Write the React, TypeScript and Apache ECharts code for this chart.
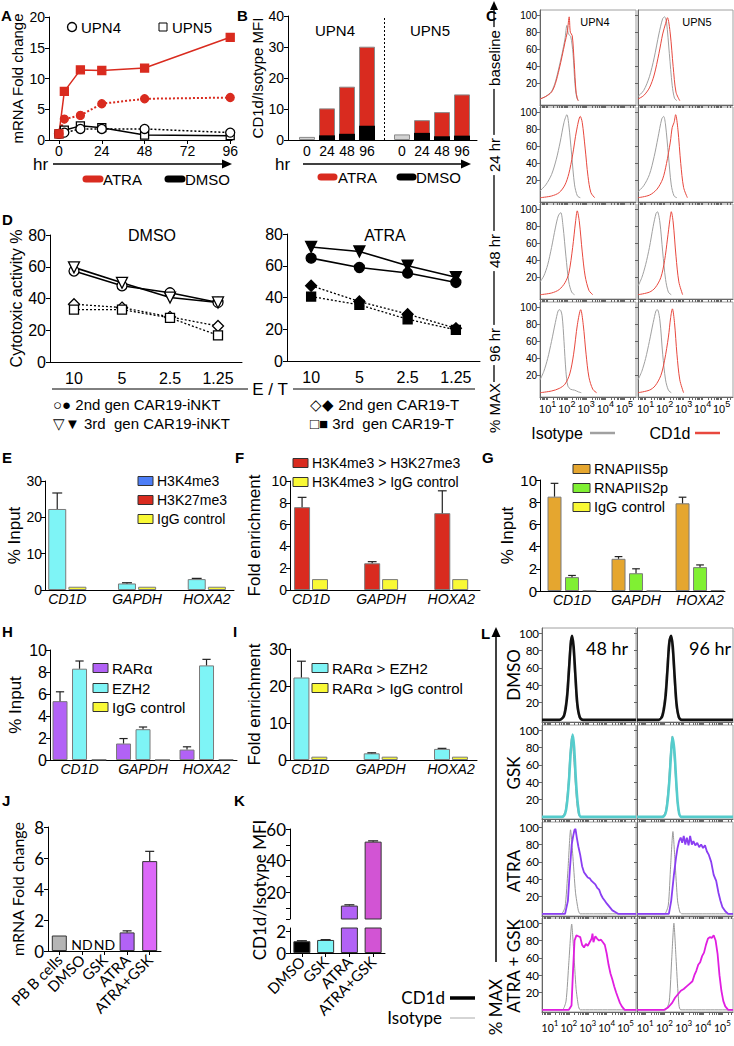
import React, { useEffect, useRef } from 'react';
import * as echarts from 'echarts';

const ARIAL = '"Liberation Sans", Arial, Helvetica, sans-serif';
const CALI = 'Lato, "Open Sans", sans-serif';

const RED = '#d92b1f';
const CYAN = '#7ef4f6';
const YELLOW = '#f9f935';
const BLUE = '#4d7ef7';
const ORANGE = '#e5a62f';
const GREEN = '#80f033';
const PURPLE = '#b262f6';
const MAG_J = '#dc68f8';
const MAG_K = '#d254d4';
const GRAYBAR = '#b5b5b5';
const ISO = '#a0a0a0';
const CRED = '#e8483e';
const L_CYAN = '#55cccc';
const L_PURPLE = '#8a3ef2';
const L_MAG = '#e01ee0';

// ---------------- Panel A : mRNA fold change over time ----------------
const aHours = [0, 3, 12, 24, 48, 96];
const aHourTicks = [0, 24, 48, 72, 96];
const aAtraUpn4 = [1.0, 3.4, 4.0, 5.9, 6.7, 6.9];
const aAtraUpn5 = [1.0, 7.9, 11.4, 11.3, 11.7, 16.7];
const aDmsoUpn4 = [1.0, 1.2, 1.8, 1.8, 1.8, 1.2];
const aDmsoUpn5 = [1.0, 1.6, 2.3, 2.0, 0.8, 0.7];

// ---------------- Panel B : CD1d/Isotype MFI ----------------
const bHourLabels = ['0', '24', '48', '96', '0', '24', '48', '96'];
const bSlots = [0, 1, 2, 3, 4.75, 5.75, 6.75, 7.75];
const bBaseline = [1.0, null, null, null, 1.8, null, null, null];
const bAtra = [null, 10.2, 17.2, 30.1, null, 6.4, 9.0, 14.7];
const bDmso = [null, 1.5, 2.0, 4.6, null, 2.3, 1.2, 1.4];
const bDivider = 3.85;

// ---------------- Panel C : histograms [log10 intensity, % max] ----------------
const cBaseU4Iso = [[0.6, 2], [0.9, 5], [1.2, 11], [1.4, 22], [1.6, 40], [1.75, 55], [1.9, 72], [2.0, 88], [2.08, 78], [2.2, 75], [2.32, 55], [2.42, 20], [2.52, 3], [2.62, 0]];
const cBaseU4CD1d = [[0.6, 2], [0.9, 5], [1.2, 10], [1.4, 20], [1.6, 37], [1.75, 52], [1.9, 68], [2.02, 80], [2.12, 98], [2.18, 80], [2.28, 76], [2.38, 45], [2.48, 10], [2.58, 0]];
const cBaseU5Iso = [[0.6, 5], [0.9, 12], [1.2, 28], [1.45, 50], [1.7, 78], [1.9, 96], [2.0, 98], [2.1, 92], [2.25, 55], [2.4, 18], [2.52, 3], [2.65, 0]];
const cBaseU5CD1d = [[0.6, 2], [0.9, 6], [1.2, 15], [1.45, 30], [1.7, 55], [1.9, 78], [2.05, 90], [2.15, 97], [2.3, 78], [2.45, 40], [2.6, 10], [2.8, 0]];
const c24U4Iso = [[0.6, 8], [0.9, 15], [1.2, 27], [1.45, 45], [1.65, 65], [1.85, 88], [2.0, 97], [2.1, 85], [2.25, 50], [2.4, 15], [2.55, 2], [2.7, 0]];
const c24U4CD1d = [[0.6, 0], [1.2, 2], [1.6, 6], [1.9, 15], [2.1, 28], [2.3, 50], [2.5, 78], [2.7, 95], [2.8, 88], [2.95, 58], [3.1, 25], [3.25, 6], [3.45, 0]];
const c24U5Iso = [[0.6, 7], [0.9, 14], [1.2, 27], [1.45, 48], [1.65, 70], [1.85, 92], [1.95, 95], [2.05, 85], [2.2, 50], [2.35, 15], [2.5, 2], [2.65, 0]];
const c24U5CD1d = [[0.6, 0], [1.2, 3], [1.6, 10], [1.9, 22], [2.1, 40], [2.3, 65], [2.4, 82], [2.5, 88], [2.58, 97], [2.7, 80], [2.85, 40], [3.0, 12], [3.2, 0]];
const c48U4Iso = [[0.6, 15], [0.8, 22], [1.0, 35], [1.2, 55], [1.4, 78], [1.55, 92], [1.68, 96], [1.8, 80], [1.95, 45], [2.1, 15], [2.25, 3], [2.4, 0]];
const c48U4CD1d = [[0.6, 0], [1.2, 2], [1.6, 6], [1.9, 14], [2.1, 25], [2.3, 55], [2.45, 85], [2.54, 98], [2.65, 85], [2.8, 50], [2.95, 22], [3.15, 5], [3.35, 0]];
const c48U5Iso = [[0.6, 10], [0.8, 20], [1.0, 35], [1.2, 55], [1.4, 80], [1.55, 95], [1.62, 97], [1.75, 85], [1.9, 50], [2.05, 18], [2.2, 3], [2.35, 0]];
const c48U5CD1d = [[0.6, 0], [1.2, 3], [1.5, 8], [1.8, 20], [2.0, 40], [2.15, 65], [2.28, 88], [2.35, 97], [2.45, 85], [2.6, 45], [2.75, 15], [2.95, 0]];
const c96U4Iso = [[0.6, 15], [0.8, 25], [1.0, 40], [1.2, 60], [1.4, 82], [1.55, 96], [1.64, 97], [1.75, 90], [1.85, 60], [1.95, 25], [2.05, 8], [2.2, 4], [2.4, 3], [2.6, 1], [2.75, 0]];
const c96U4CD1d = [[0.6, 0], [1.2, 2], [1.6, 5], [1.9, 10], [2.15, 22], [2.35, 45], [2.55, 80], [2.72, 97], [2.85, 80], [3.0, 45], [3.15, 18], [3.35, 4], [3.55, 0]];
const c96U5Iso = [[0.6, 15], [0.8, 25], [1.0, 40], [1.2, 60], [1.4, 82], [1.55, 96], [1.62, 97], [1.75, 85], [1.9, 45], [2.05, 15], [2.2, 3], [2.35, 0]];
const c96U5CD1d = [[0.6, 0], [1.2, 3], [1.5, 8], [1.8, 20], [2.0, 38], [2.2, 65], [2.32, 88], [2.41, 98], [2.52, 82], [2.65, 45], [2.8, 15], [3.0, 0]];
const cRowLabels = ['baseline', '24 hr', '48 hr', '96 hr'];

// ---------------- Panel D : cytotoxicity ----------------
const dRatios = ['10', '5', '2.5', '1.25'];
const dDmso2ndINKT = [57.3, 48, 43.6, 37.5];
const dDmso3rdINKT = [59.6, 49.9, 40.6, 37.5];
const dDmso2ndT = [36.4, 34.3, 28.4, 22.7];
const dDmso3rdT = [33, 33, 27.8, 16.8];
const dAtra2ndINKT = [64.8, 58.9, 55.4, 49.5];
const dAtra3rdINKT = [71.8, 69, 60, 52.8];
const dAtra2ndT = [47.4, 37.5, 29.5, 20.6];
const dAtra3rdT = [40.6, 35.4, 26.3, 19.6];

// ---------------- Panels E–I : ChIP ----------------
const genes = ['CD1D', 'GAPDH', 'HOXA2'];
const eH3K4me3 = [22.3, 1.8, 3.0];
const eH3K4me3Err = [4.4, 0.2, 0.2];
const eIgG = [0.9, 0.9, 0.9];
const fK4overK27 = [7.6, 2.45, 7.05];
const fK4overK27Err = [0.9, 0.15, 2.05];
const fK4overIgG = [1.0, 1.0, 1.0];
const gS5p = [8.5, 2.9, 7.9];
const gS5pErr = [1.2, 0.2, 0.55];
const gS2p = [1.25, 1.6, 2.15];
const gS2pErr = [0.15, 0.4, 0.2];
const gIgG = [0.05, 0.03, 0.08];
const hRARa = [5.35, 1.5, 0.95];
const hRARaErr = [0.85, 0.45, 0.25];
const hEZH2 = [8.3, 2.8, 8.6];
const hEZH2Err = [0.7, 0.2, 0.55];
const hIgG = [0.05, 0.02, 0.05];
const iEZH2 = [22.3, 1.8, 3.0];
const iEZH2Err = [4.4, 0.15, 0.15];
const iIgG = [0.9, 0.9, 0.9];

// ---------------- Panel J ----------------
const jCats = ['PB B cells', 'DMSO', 'GSK', 'ATRA', 'ATRA+GSK'];
const jVals = [1.0, 0, 0, 1.2, 5.8];
const jErr = [0, 0, 0, 0.1, 0.63];
const jNotDetected = [false, true, true, false, false];

// ---------------- Panel K ----------------
const kCats = ['DMSO', 'GSK', 'ATRA', 'ATRA+GSK'];
const kVals = [1.08, 1.2, 11.5, 52];
const kErr = [0.05, 0.03, 0.5, 0.5];

// ---------------- Panel L : histograms [log10 intensity, % max] ----------------
const lDmso48Iso = [[0.58, 0], [1.5, 0], [1.7, 5], [1.85, 25], [1.97, 60], [2.08, 92], [2.14, 96], [2.22, 80], [2.32, 45], [2.42, 15], [2.55, 2], [2.7, 0], [5.55, 0]];
const lDmso48CD1d = [[0.58, 0], [1.5, 0], [1.75, 5], [1.9, 25], [2.0, 55], [2.1, 88], [2.17, 97], [2.25, 85], [2.35, 50], [2.45, 18], [2.58, 3], [2.75, 0], [5.55, 0]];
const lDmso96Iso = [[0.58, 0], [1.7, 0], [1.85, 5], [2.0, 25], [2.12, 60], [2.22, 92], [2.3, 96], [2.4, 80], [2.5, 45], [2.6, 15], [2.72, 2], [2.85, 0], [5.55, 0]];
const lDmso96CD1d = [[0.58, 0], [1.7, 0], [1.9, 5], [2.05, 25], [2.15, 55], [2.25, 88], [2.35, 97], [2.43, 85], [2.53, 50], [2.63, 18], [2.75, 3], [2.9, 0], [5.55, 0]];
const lGsk48Iso = [[0.58, 0], [1.6, 0], [1.8, 6], [1.95, 35], [2.05, 70], [2.15, 93], [2.25, 70], [2.35, 35], [2.45, 10], [2.6, 0], [5.55, 0]];
const lGsk48CD1d = [[0.58, 0], [1.65, 0], [1.85, 8], [2.0, 40], [2.1, 75], [2.2, 95], [2.28, 80], [2.38, 40], [2.5, 10], [2.65, 0], [5.55, 0]];
const lGsk96Iso = [[0.58, 0], [1.85, 0], [2.05, 6], [2.2, 35], [2.3, 70], [2.4, 93], [2.5, 70], [2.6, 35], [2.7, 10], [2.85, 0], [5.55, 0]];
const lGsk96CD1d = [[0.58, 0], [1.9, 0], [2.1, 8], [2.25, 40], [2.35, 75], [2.42, 92], [2.52, 75], [2.62, 38], [2.72, 10], [2.88, 0], [5.55, 0]];
const lAtra48Iso = [[0.58, 0], [1.6, 0], [1.8, 8], [1.95, 50], [2.09, 97], [2.2, 70], [2.35, 25], [2.5, 4], [2.6, 0], [5.55, 0]];
const lAtra48CD1d = [[0.58, 0], [1.8, 0], [1.95, 15], [2.05, 50], [2.15, 80], [2.23, 90], [2.3, 97], [2.35, 98], [2.42, 88], [2.5, 78], [2.6, 68], [2.7, 55], [2.8, 48], [2.9, 45], [3.0, 42], [3.1, 41], [3.2, 38], [3.3, 36], [3.4, 34], [3.5, 30], [3.6, 28], [3.7, 22], [3.8, 18], [3.9, 15], [4.0, 12], [4.15, 8], [4.3, 4], [4.45, 2], [4.6, 0], [5.55, 0]];
const lAtra96Iso = [[0.58, 0], [2.0, 0], [2.2, 10], [2.32, 55], [2.44, 95], [2.55, 60], [2.68, 15], [2.8, 2], [2.9, 0], [5.55, 0]];
const lAtra96CD1d = [[0.58, 0], [2.23, 0], [2.35, 15], [2.49, 45], [2.6, 65], [2.67, 75], [2.76, 84], [2.84, 88], [2.92, 82], [3.0, 90], [3.08, 80], [3.16, 88], [3.25, 79], [3.33, 90], [3.42, 80], [3.5, 84], [3.6, 79], [3.7, 82], [3.8, 77], [3.9, 80], [4.0, 76], [4.1, 79], [4.2, 72], [4.3, 68], [4.42, 60], [4.55, 45], [4.68, 38], [4.8, 24], [4.9, 15], [5.0, 8], [5.15, 3], [5.3, 0], [5.55, 0]];
const lCombo48Iso = [[0.58, 0], [1.65, 0], [1.85, 10], [2.0, 55], [2.15, 99], [2.25, 70], [2.38, 25], [2.5, 5], [2.6, 0], [5.55, 0]];
const lCombo48CD1d = [[0.58, 0], [2.0, 0], [2.14, 5], [2.22, 45], [2.3, 80], [2.4, 86], [2.5, 85], [2.6, 84], [2.7, 75], [2.8, 72], [2.9, 76], [3.0, 74], [3.1, 78], [3.2, 82], [3.25, 88], [3.3, 78], [3.4, 85], [3.5, 82], [3.6, 80], [3.7, 81], [3.8, 78], [3.9, 75], [4.0, 65], [4.1, 52], [4.2, 42], [4.3, 35], [4.4, 27], [4.5, 20], [4.6, 14], [4.7, 8], [4.8, 4], [4.95, 0], [5.55, 0]];
const lCombo96Iso = [[0.58, 0], [2.05, 0], [2.25, 10], [2.38, 60], [2.49, 100], [2.6, 60], [2.72, 15], [2.85, 0], [5.55, 0]];
const lCombo96CD1d = [[0.58, 0], [2.0, 0], [2.2, 3], [2.4, 8], [2.55, 14], [2.7, 18], [2.85, 22], [3.0, 24], [3.15, 27], [3.3, 30], [3.45, 33], [3.55, 40], [3.65, 45], [3.75, 52], [3.85, 55], [3.95, 62], [4.05, 66], [4.15, 75], [4.25, 82], [4.35, 84], [4.45, 83], [4.55, 86], [4.65, 80], [4.75, 65], [4.85, 40], [4.95, 22], [5.05, 10], [5.15, 4], [5.3, 0], [5.55, 0]];
const lRowLabels = ['DMSO', 'GSK', 'ATRA', 'ATRA + GSK'];
const lColLabels = ['48 hr', '96 hr'];

const decades = [1, 2, 3, 4, 5];
const pctTicks = [20, 40, 60, 80, 100];

function logTicks(min: number, max: number) {
  const t: number[] = [];
  for (let d = 0; d <= 5; d++) {
    for (let k = 1; k <= 9; k++) {
      const v = +(d + Math.log10(k)).toFixed(4);
      if (v >= min && v <= max) t.push(v);
    }
  }
  return t;
}

function buildOption() {
  const grid: any[] = [];
  const xAxis: any[] = [];
  const yAxis: any[] = [];
  const series: any[] = [];
  const g: any[] = [];

  const addGrid = (left: number, top: number, width: number, height: number, extra: any = {}) => {
    grid.push({ left, top, width, height, containLabel: false, ...extra });
    return grid.length - 1;
  };
  const text = (x: number, y: number, t: string, o: any = {}) => {
    g.push({
      type: 'text', x, y, rotation: o.rot || 0, z: 50, silent: true,
      style: {
        text: t, fill: o.color || '#000', fontSize: o.size || 14, fontFamily: o.font || ARIAL,
        fontWeight: o.bold ? 'bold' : 'normal', fontStyle: o.italic ? 'italic' : 'normal',
        align: o.align || 'left', verticalAlign: o.va || 'middle',
        backgroundColor: o.bg, padding: o.pad,
      },
    });
  };
  const line = (x1: number, y1: number, x2: number, y2: number, o: any = {}) =>
    g.push({ type: 'line', z: 40, silent: true, shape: { x1, y1, x2, y2 }, style: { stroke: o.color || '#000', lineWidth: o.w || 1, lineCap: o.cap || 'butt', lineDash: o.dash || null } });
  const rect = (x: number, y: number, w: number, h: number, fill: string, stroke = '#333') =>
    g.push({ type: 'rect', z: 40, silent: true, shape: { x, y, width: w, height: h }, style: { fill, stroke, lineWidth: 1 } });
  const poly = (points: number[][], fill = '#000') =>
    g.push({ type: 'polygon', z: 40, silent: true, shape: { points }, style: { fill } });
  const circ = (cx: number, cy: number, r: number) =>
    g.push({ type: 'circle', z: 40, silent: true, shape: { cx, cy, r }, style: { fill: '#fff', stroke: '#000', lineWidth: 1.4 } });

  const ts = (size: number, font = ARIAL, extra: any = {}) => ({ fontSize: size, fontFamily: font, color: '#000', ...extra });
  const axLine = (color = '#000') => ({ show: true, onZero: false, lineStyle: { color, width: 1 } });

  const mkLine = (gi: number, data: any[], o: any) => ({
    type: 'line', xAxisIndex: gi, yAxisIndex: gi, data, silent: true,
    symbol: o.symbol || 'none', symbolSize: o.size || 6, symbolRotate: o.rot || 0, showSymbol: !!o.symbol,
    smooth: o.smooth || false, z: o.z || 3, clip: true,
    lineStyle: { color: o.color, width: o.width || 1.5, type: o.dash || 'solid' },
    itemStyle: { color: o.fill || o.color, borderColor: o.color, borderWidth: o.bw || 1.3 },
    emphasis: { disabled: true },
  });

  const errS = (gi: number, data: number[][], offset: number, cap: number) => ({
    type: 'custom', xAxisIndex: gi, yAxisIndex: gi, z: 6, silent: true, data, encode: { x: 0, y: 1 },
    renderItem: (_p: any, api: any) => {
      const x = api.value(0), y = api.value(1), e = api.value(2);
      const a = api.coord([x, y]);
      const b = api.coord([x, y + e]);
      const cx = a[0] + offset;
      return {
        type: 'group', children: [
          { type: 'line', shape: { x1: cx, y1: a[1], x2: cx, y2: b[1] }, style: { stroke: '#222', lineWidth: 1.2 } },
          { type: 'line', shape: { x1: cx - cap / 2, y1: b[1], x2: cx + cap / 2, y2: b[1] }, style: { stroke: '#222', lineWidth: 1.2 } },
        ],
      };
    },
  });

  // ======================= A =======================
  {
    const gi = addGrid(49, 17, 183, 123);
    xAxis.push({
      gridIndex: gi, type: 'value', min: -5.6, max: 97, splitLine: { show: false }, axisLine: axLine(),
      axisTick: { show: true, customValues: aHourTicks, length: 4, lineStyle: { color: '#000' } },
      axisLabel: { customValues: aHourTicks, margin: 4, ...ts(14) },
    });
    yAxis.push({
      gridIndex: gi, type: 'value', min: 0, max: 20, interval: 5, splitLine: { show: false }, axisLine: axLine(),
      axisTick: { show: true, length: 4, lineStyle: { color: '#000' } },
      axisLabel: { margin: 4, ...ts(14) },
      name: 'mRNA Fold change', nameLocation: 'middle', nameGap: 24, nameTextStyle: ts(15),
    });
    const pts = (ys: number[]) => aHours.map((h, i) => [h, ys[i]]);
    series.push(mkLine(gi, pts(aDmsoUpn5), { color: '#000', symbol: 'rect', size: 8, fill: '#fff', width: 1.5 }));
    series.push(mkLine(gi, pts(aDmsoUpn4), { color: '#000', symbol: 'circle', size: 9, fill: '#fff', dash: [2, 2], width: 1.5 }));
    series.push(mkLine(gi, pts(aAtraUpn4), { color: RED, symbol: 'circle', size: 8, dash: [2, 2], width: 2 }));
    series.push(mkLine(gi, pts(aAtraUpn5), { color: RED, symbol: 'rect', size: 8, width: 1.5 }));
    text(1, 15, 'A', { bold: true, size: 15 });
    circ(72, 27, 4.5);
    text(81, 27, 'UPN4', { size: 15 });
    rect(159, 23, 8, 8, '#fff', '#000');
    text(172, 27, 'UPN5', { size: 15 });
    text(33, 164, 'hr', { size: 17 });
    line(53, 164, 224, 164, { w: 1.3 });
    poly([[222, 159.5], [232, 164], [222, 168.5]]);
    line(86, 179, 100, 179, { color: RED, w: 7, cap: 'round' });
    text(103, 179, 'ATRA', { size: 15 });
    line(168, 179, 182, 179, { color: '#000', w: 7, cap: 'round' });
    text(185, 179, 'DMSO', { size: 15 });
  }

  // ======================= B =======================
  {
    const gi = addGrid(288, 16, 189, 124);
    xAxis.push({
      gridIndex: gi, type: 'value', min: -0.95, max: 8.5, splitLine: { show: false }, axisLine: axLine(),
      axisTick: { show: false },
      axisLabel: { customValues: bSlots, formatter: (v: number) => bHourLabels[bSlots.indexOf(v)] ?? '', margin: 4, ...ts(14) },
    });
    yAxis.push({
      gridIndex: gi, type: 'value', min: 0, max: 40, interval: 10, splitLine: { show: false }, axisLine: axLine(),
      axisTick: { show: true, length: 4, lineStyle: { color: '#000' } },
      axisLabel: { margin: 4, ...ts(14) },
      name: 'CD1d/Isotype MFI', nameLocation: 'middle', nameGap: 20, nameTextStyle: ts(15),
    });
    const pts = (vals: (number | null)[]) => bSlots.map((x, i) => (vals[i] == null ? null : [x, vals[i]])).filter(Boolean);
    series.push({
      type: 'bar', xAxisIndex: gi, yAxisIndex: gi, data: pts(bBaseline), barWidth: 16, barGap: '-100%', silent: true,
      itemStyle: { color: '#d2d2d2', borderColor: '#8a8a8a', borderWidth: 1 },
      markLine: { symbol: ['none', 'none'], silent: true, label: { show: false }, lineStyle: { type: [2, 2], color: '#000', width: 1 }, data: [{ xAxis: bDivider }] },
    });
    series.push({ type: 'bar', xAxisIndex: gi, yAxisIndex: gi, data: pts(bAtra), barWidth: 16, barGap: '-100%', silent: true, itemStyle: { color: RED, borderColor: '#8a8a8a', borderWidth: 1 } });
    series.push({ type: 'bar', xAxisIndex: gi, yAxisIndex: gi, data: pts(bDmso), barWidth: 16, barGap: '-100%', silent: true, itemStyle: { color: '#000' } });
    text(237, 15, 'B', { bold: true, size: 15 });
    text(335, 30, 'UPN4', { size: 15, align: 'center' });
    text(430, 30, 'UPN5', { size: 15, align: 'center' });
    text(275, 164, 'hr', { size: 17 });
    line(303, 164, 463, 164, { w: 1.3 });
    poly([[461, 159.5], [471, 164], [461, 168.5]]);
    line(321, 177, 334, 177, { color: RED, w: 7, cap: 'round' });
    text(338, 177, 'ATRA', { size: 15 });
    line(400, 177, 413, 177, { color: '#000', w: 7, cap: 'round' });
    text(416, 177, 'DMSO', { size: 15 });
  }

  // ======================= histogram helper =======================
  const hist = (left: number, top: number, w: number, h: number, xmin: number, xmax: number, ymin: number,
    showX: boolean, showY: boolean, font: string, fs: number, xfs: number, xMargin: number, curves: any[]) => {
    const gi = addGrid(left, top, w, h, { show: true, borderColor: '#a0a0a0', borderWidth: 1 });
    const supFs = Math.round(xfs * 0.78);
    xAxis.push({
      gridIndex: gi, type: 'value', min: xmin, max: xmax, splitLine: { show: false }, axisLine: axLine('#666'),
      axisTick: { show: true, customValues: logTicks(xmin, xmax), length: 3, lineStyle: { color: '#666' } },
      axisLabel: {
        show: showX, customValues: decades, margin: xMargin, showMinLabel: true, showMaxLabel: true, hideOverlap: false,
        formatter: (v: number) => '{b|10}{s|' + v + '}',
        rich: {
          b: { fontSize: xfs, fontFamily: font, color: '#000', lineHeight: xfs + 4, verticalAlign: 'bottom' },
          s: { fontSize: supFs, fontFamily: font, color: '#000', lineHeight: supFs, verticalAlign: 'top' },
        },
      },
    });
    yAxis.push({
      gridIndex: gi, type: 'value', min: ymin, max: 106, splitLine: { show: false }, axisLine: axLine('#666'),
      axisTick: { show: true, customValues: pctTicks, length: 3, lineStyle: { color: '#666' } },
      axisLabel: { show: showY, customValues: pctTicks, margin: 3, ...ts(fs, font) },
    });
    curves.forEach((c) => series.push(mkLine(gi, c.data, { color: c.color, width: c.width, smooth: c.smooth })));
  };

  // ======================= C =======================
  {
    const rows = [
      [[cBaseU4Iso, cBaseU4CD1d], [cBaseU5Iso, cBaseU5CD1d]],
      [[c24U4Iso, c24U4CD1d], [c24U5Iso, c24U5CD1d]],
      [[c48U4Iso, c48U4CD1d], [c48U5Iso, c48U5CD1d]],
      [[c96U4Iso, c96U4CD1d], [c96U5Iso, c96U5CD1d]],
    ];
    const tops = [10, 107, 204, 302];
    const cols = [[540, 96], [638, 95]];
    rows.forEach((row, r) => {
      row.forEach((pair, c) => {
        hist(cols[c][0], tops[r], cols[c][1], 95, 0.6, 5.6, -5, r === 3, c === 0, ARIAL, 10, 11, 2, [
          { data: pair[0], color: ISO, width: 1, smooth: 0.3 },
          { data: pair[1], color: CRED, width: 1, smooth: 0.3 },
        ]);
      });
    });
    text(486, 15, 'C', { bold: true, size: 15 });
    line(494, 8, 494, 382, { w: 1.3 });
    poly([[490, 10], [498, 10], [494, 1]]);
    const ys = [58, 155, 251, 345];
    cRowLabels.forEach((t, i) => text(494, ys[i], t, { rot: Math.PI / 2, align: 'center', size: 15, bg: '#fff', pad: [0, 3] }));
    text(494, 408, '% MAX', { rot: Math.PI / 2, align: 'center', size: 15 });
    text(595, 22, 'UPN4', { size: 11, align: 'center' });
    text(697, 22, 'UPN5', { size: 11, align: 'center' });
    text(557, 433, 'Isotype', { size: 16, align: 'center' });
    line(590, 433, 615, 433, { color: ISO, w: 2.5 });
    text(670, 433, 'CD1d', { size: 16, align: 'center' });
    line(695, 433, 720, 433, { color: CRED, w: 2.5 });
  }

  // ======================= D =======================
  const dPanel = (left: number, top: number, w: number, h: number, filled: boolean, sets: any[], yName: string | null) => {
    const gi = addGrid(left, top, w, h);
    xAxis.push({
      gridIndex: gi, type: 'category', data: dRatios, boundaryGap: true, axisLine: axLine(), axisTick: { show: false },
      axisLabel: { margin: 8, interval: 0, ...ts(16) },
    });
    yAxis.push({
      gridIndex: gi, type: 'value', min: 0, max: 80, interval: 20, splitLine: { show: false }, axisLine: axLine(),
      axisTick: { show: true, length: 4, lineStyle: { color: '#000' } },
      axisLabel: { margin: 4, ...ts(16) },
      name: yName || '', nameLocation: 'middle', nameGap: 20, nameTextStyle: ts(16),
    });
    sets.forEach((s) => series.push(mkLine(gi, s.vals, {
      color: '#000', symbol: s.symbol, size: s.size, rot: s.rot, fill: filled ? '#000' : '#fff',
      dash: s.dotted ? [2, 2] : 'solid', width: s.dotted ? 1.3 : 1.6,
    })));
  };
  dPanel(50, 235, 192, 127, false, [
    { vals: dDmso2ndT, symbol: 'diamond', size: 11, dotted: true },
    { vals: dDmso3rdT, symbol: 'rect', size: 9, dotted: true },
    { vals: dDmso2ndINKT, symbol: 'circle', size: 10 },
    { vals: dDmso3rdINKT, symbol: 'triangle', size: 11, rot: 180 },
  ], 'Cytotoxic activity %');
  dPanel(287, 234, 193, 127, true, [
    { vals: dAtra2ndT, symbol: 'diamond', size: 11, dotted: true },
    { vals: dAtra3rdT, symbol: 'rect', size: 9, dotted: true },
    { vals: dAtra2ndINKT, symbol: 'circle', size: 10 },
    { vals: dAtra3rdINKT, symbol: 'triangle', size: 11, rot: 180 },
  ], null);
  text(2, 219, 'D', { bold: true, size: 15 });
  text(152, 235, 'DMSO', { size: 16, align: 'center' });
  text(385, 235, 'ATRA', { size: 16, align: 'center' });
  line(52, 389, 248, 389);
  text(270, 389, 'E / T', { size: 17, align: 'center' });
  line(293, 389, 475, 389);
  text(53, 404, '○● 2nd gen CAR19-iNKT', { size: 15 });
  text(53, 423, '▽▼ 3rd  gen CAR19-iNKT', { size: 15 });
  text(310, 404, '◇◆ 2nd gen CAR19-T', { size: 15 });
  text(310, 423, '□■ 3rd  gen CAR19-T', { size: 15 });

  // ======================= bar helper (E–I) =======================
  const barPanel = (o: any) => {
    const gi = addGrid(o.left, o.top, o.width, o.height);
    xAxis.push({
      gridIndex: gi, type: 'value', min: o.xmin, max: o.xmax, splitLine: { show: false }, axisLine: axLine(), axisTick: { show: false },
      axisLabel: { customValues: [0, 1, 2], formatter: (v: number) => genes[v] ?? '', margin: 2, ...ts(14, ARIAL, { fontStyle: 'italic' }) },
    });
    yAxis.push({
      gridIndex: gi, type: 'value', min: 0, max: o.ymax, interval: o.yInt, splitLine: { show: false }, axisLine: axLine(),
      axisTick: { show: true, length: 4, lineStyle: { color: '#000' } },
      axisLabel: { margin: 3, ...ts(o.tickFs) },
      name: o.yName, nameLocation: 'middle', nameGap: o.nameGap, nameTextStyle: ts(17),
    });
    const n = o.sets.length;
    const gap = o.gap;
    o.sets.forEach((s: any, i: number) => {
      series.push({
        type: 'bar', xAxisIndex: gi, yAxisIndex: gi, data: s.vals.map((v: number, k: number) => [k, v]),
        barWidth: o.bw, barGap: Math.round(gap * 100) + '%', silent: true,
        itemStyle: { color: s.color, borderColor: '#7a7a7a', borderWidth: 1 },
      });
      if (s.err) {
        const off = (i - (n - 1) / 2) * o.bw * (1 + gap);
        series.push(errS(gi, s.vals.map((v: number, k: number) => [k, v, s.err[k]]), off, o.bw * 0.55));
      }
    });
    o.legend.forEach((it: any, k: number) => {
      const y = o.legY[k];
      rect(o.legX, y - 4.5, o.swW, 9, it[1]);
      text(o.legX + o.swW + 4, y, it[0], { size: o.legFs });
    });
  };

  barPanel({
    left: 45, top: 481, width: 189, height: 109, xmin: -0.32, xmax: 2.39, ymax: 30, yInt: 10, tickFs: 14,
    yName: '% Input', nameGap: 22, bw: 18, gap: 0.12,
    sets: [{ vals: eH3K4me3, err: eH3K4me3Err, color: CYAN }, { vals: eIgG, color: YELLOW }],
    legend: [['H3K4me3', BLUE], ['H3K27me3', RED], ['IgG control', YELLOW]], legX: 138, swW: 15, legY: [481, 500, 519], legFs: 14,
  });
  barPanel({
    left: 290, top: 481, width: 190, height: 109, xmin: -0.3, xmax: 2.41, ymax: 10, yInt: 2, tickFs: 14,
    yName: 'Fold enrichment', nameGap: 27, bw: 16, gap: 0.12,
    sets: [{ vals: fK4overK27, err: fK4overK27Err, color: RED }, { vals: fK4overIgG, color: YELLOW }],
    legend: [['H3K4me3 > H3K27me3', RED], ['H3K4me3 > IgG control', YELLOW]], legX: 293, swW: 15, legY: [463, 482], legFs: 14,
  });
  barPanel({
    left: 540, top: 480, width: 185, height: 111, xmin: -0.5, xmax: 2.39, ymax: 10, yInt: 2, tickFs: 15,
    yName: '% Input', nameGap: 17, bw: 14, gap: 0.25,
    sets: [{ vals: gS5p, err: gS5pErr, color: ORANGE }, { vals: gS2p, err: gS2pErr, color: GREEN }, { vals: gIgG, color: YELLOW }],
    legend: [['RNAPIIS5p', ORANGE], ['RNAPIIS2p', GREEN], ['IgG control', YELLOW]], legX: 573, swW: 17, legY: [469, 488, 507], legFs: 14.5,
  });
  barPanel({
    left: 50, top: 650, width: 187, height: 110, xmin: -0.465, xmax: 2.48, ymax: 10, yInt: 2, tickFs: 16,
    yName: '% Input', nameGap: 26, bw: 15, gap: 0.3,
    sets: [{ vals: hRARa, err: hRARaErr, color: PURPLE }, { vals: hEZH2, err: hEZH2Err, color: CYAN }, { vals: hIgG, color: YELLOW }],
    legend: [['RARα', PURPLE], ['EZH2', CYAN], ['IgG control', YELLOW]], legX: 93, swW: 15, legY: [668, 688, 707], legFs: 15,
  });
  barPanel({
    left: 290, top: 649, width: 187, height: 111, xmin: -0.29, xmax: 2.37, ymax: 30, yInt: 10, tickFs: 16,
    yName: 'Fold enrichment', nameGap: 27, bw: 16, gap: 0.12,
    sets: [{ vals: iEZH2, err: iEZH2Err, color: CYAN }, { vals: iIgG, color: YELLOW }],
    legend: [['RARα > EZH2', CYAN], ['RARα > IgG control', YELLOW]], legX: 312, swW: 16, legY: [668, 688], legFs: 15,
  });
  text(2, 457, 'E', { bold: true, size: 15 });
  text(235, 457, 'F', { bold: true, size: 15 });
  text(482, 457, 'G', { bold: true, size: 15 });
  text(2, 631, 'H', { bold: true, size: 15 });
  text(233, 631, 'I', { bold: true, size: 15 });

  // ======================= J =======================
  {
    const gi = addGrid(48, 827, 113, 124);
    const jColors = [GRAYBAR, '#fff', '#fff', PURPLE, MAG_J];
    xAxis.push({
      gridIndex: gi, type: 'category', data: jCats, boundaryGap: true, axisLine: axLine(),
      axisTick: { show: true, alignWithLabel: true, length: 4, lineStyle: { color: '#000' } },
      axisLabel: { rotate: 45, interval: 0, margin: 6, ...ts(15, CALI) },
    });
    yAxis.push({
      gridIndex: gi, type: 'value', min: 0, max: 8, interval: 2, splitLine: { show: false }, axisLine: axLine(),
      axisTick: { show: true, length: 4, lineStyle: { color: '#000' } },
      axisLabel: { margin: 4, ...ts(17, CALI) },
      name: 'mRNA Fold change', nameLocation: 'middle', nameGap: 23, nameTextStyle: ts(16, CALI),
    });
    series.push({
      type: 'bar', xAxisIndex: gi, yAxisIndex: gi, barWidth: 15, silent: true,
      data: jVals.map((v, i) => ({
        value: v,
        itemStyle: { color: jColors[i], borderColor: '#333', borderWidth: jNotDetected[i] ? 0 : 1 },
        label: jNotDetected[i] ? { show: true, formatter: 'ND', position: 'top', distance: 0, ...ts(14, CALI) } : { show: false },
      })),
    });
    series.push(errS(gi, jVals.map((v, i) => [i, v, jErr[i]]).filter((d) => d[2] > 0), 0, 9));
    text(2, 800, 'J', { bold: true, size: 15 });
  }

  // ======================= K (broken axis) =======================
  {
    const kColors = ['#000', CYAN, PURPLE, MAG_K];
    const kData = kVals.map((v, i) => ({ value: v, itemStyle: { color: kColors[i], borderColor: '#333', borderWidth: 1 } }));
    const gu = addGrid(290, 829, 95, 90);
    xAxis.push({ gridIndex: gu, type: 'category', data: kCats, boundaryGap: true, show: false });
    yAxis.push({
      gridIndex: gu, type: 'value', min: 3, max: 60, splitLine: { show: false }, axisLine: axLine(),
      axisTick: { show: true, customValues: [3, 10, 20, 30, 40, 50, 60], length: 4, lineStyle: { color: '#000' } },
      axisLabel: { customValues: [20, 40, 60], margin: 4, ...ts(17, CALI) },
    });
    series.push({ type: 'bar', xAxisIndex: gu, yAxisIndex: gu, barWidth: 17, silent: true, data: kData });
    series.push(errS(gu, kVals.map((v, i) => [i, v, kErr[i]]).filter((d) => d[1] > 2.3), 0, 10));
    const gl = addGrid(290, 928, 95, 25);
    xAxis.push({
      gridIndex: gl, type: 'category', data: kCats, boundaryGap: true, axisLine: axLine(),
      axisTick: { show: true, alignWithLabel: true, length: 4, lineStyle: { color: '#000' } },
      axisLabel: { rotate: 45, interval: 0, margin: 6, ...ts(15, CALI) },
    });
    yAxis.push({
      gridIndex: gl, type: 'value', min: 0, max: 2.3, splitLine: { show: false }, axisLine: axLine(),
      axisTick: { show: true, customValues: [0, 2], length: 4, lineStyle: { color: '#000' } },
      axisLabel: { customValues: [0, 2], margin: 4, ...ts(17, CALI) },
    });
    series.push({ type: 'bar', xAxisIndex: gl, yAxisIndex: gl, barWidth: 17, silent: true, data: kData });
    series.push(errS(gl, kVals.map((v, i) => [i, v, kErr[i]]).filter((d) => d[1] <= 2.3), 0, 10));
    text(234, 800, 'K', { bold: true, size: 15 });
    text(259, 890, 'CD1d/Isotype MFI', { rot: Math.PI / 2, align: 'center', size: 17, font: CALI });
    text(445, 997, 'CD1d', { align: 'right', size: 17, font: CALI });
    line(450, 998, 475, 998, { w: 3.5 });
    text(442, 1017, 'Isotype', { align: 'right', size: 17, font: CALI });
    line(450, 1018, 475, 1018, { w: 1, color: '#aaa' });
  }

  // ======================= L =======================
  {
    const rows = [
      [[lDmso48Iso, lDmso48CD1d], [lDmso96Iso, lDmso96CD1d], '#111', 2.6],
      [[lGsk48Iso, lGsk48CD1d], [lGsk96Iso, lGsk96CD1d], L_CYAN, 2.6],
      [[lAtra48Iso, lAtra48CD1d], [lAtra96Iso, lAtra96CD1d], L_PURPLE, 1.8],
      [[lCombo48Iso, lCombo48CD1d], [lCombo96Iso, lCombo96CD1d], L_MAG, 1.8],
    ];
    const tops = [628, 725, 822, 918];
    const cols = [[542, 94], [637, 96]];
    rows.forEach((row: any, r) => {
      [row[0], row[1]].forEach((pair: any, c) => {
        hist(cols[c][0], tops[r], cols[c][1], 94, 0.58, 5.55, -2.5, r === 3, c === 0, CALI, 11.5, 10.5, 7, [
          { data: pair[0], color: '#999', width: 1, smooth: 0.2 },
          { data: pair[1], color: row[2], width: row[3], smooth: r < 2 ? 0.3 : 0 },
        ]);
      });
    });
    text(481, 633, 'L', { bold: true, size: 15 });
    line(496, 634, 496, 962, { w: 1.5 });
    poly([[491.5, 637], [500.5, 637], [496, 627]]);
    const ly = [675, 773, 871, 966];
    lRowLabels.forEach((t, i) => text(513, ly[i], t, { rot: Math.PI / 2, align: 'center', size: 17, font: CALI }));
    text(495, 1007, '% MAX', { rot: Math.PI / 2, align: 'center', size: 17, font: CALI });
    text(607, 648, lColLabels[0], { align: 'center', size: 18, font: CALI });
    text(710, 648, lColLabels[1], { align: 'center', size: 18, font: CALI });
  }

  return {
    animation: false,
    backgroundColor: '#fff',
    grid, xAxis, yAxis, series,
    graphic: { elements: g },
  };
}

export default function App() {
  const ref = useRef<HTMLDivElement>(null);
  useEffect(() => {
    const chart = echarts.init(ref.current as HTMLDivElement, undefined, { renderer: 'svg', width: 734, height: 1046 });
    chart.setOption(buildOption() as any);
    return () => chart.dispose();
  }, []);
  return <div ref={ref} style={{ position: 'absolute', left: 0, top: 0, width: 734, height: 1046, background: '#fff' }} />;
}
